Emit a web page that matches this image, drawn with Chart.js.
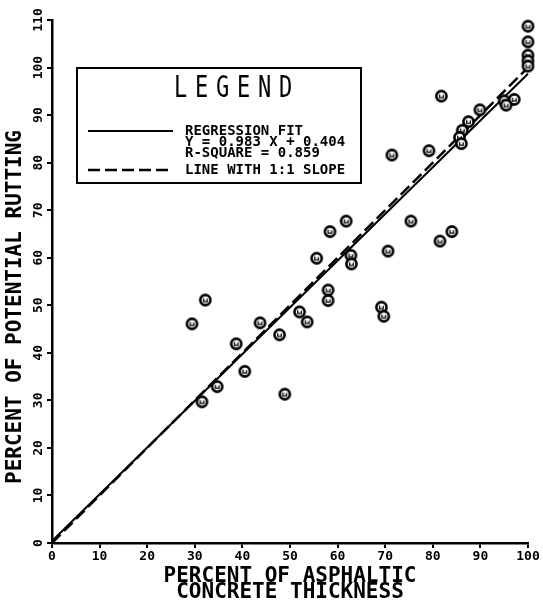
<!DOCTYPE html>
<html><head><meta charset="utf-8">
<script src="https://cdn.jsdelivr.net/npm/chart.js@4/dist/chart.umd.min.js"></script>
<style>html,body{margin:0;padding:0;background:#fff;}canvas{display:block;}</style>
</head><body>
<canvas id="c" width="543" height="603"></canvas>
<script>
// ---- data ----
const acThickness = [32.2,29.4,43.7,38.7,40.5,34.7,31.5,48.9,47.8,52.0,53.6,55.6,58.4,61.8,58.0,58.0,62.8,62.9,70.6,69.2,69.7,71.4,79.2,75.4,81.5,84.0,81.8,89.9,87.5,86.2,85.6,86.0,95.0,97.1,95.4,100,100,100,100,100];
const rutting     = [51.1,46.1,46.3,41.9,36.1,32.9,29.7,31.3,43.8,48.6,46.5,59.9,65.5,67.7,53.2,51.0,60.5,58.7,61.4,49.6,47.7,81.6,82.5,67.7,63.5,65.5,94.0,91.1,88.6,86.8,85.3,84.0,93.0,93.3,92.1,108.7,105.4,102.6,101.4,100.3];
const regressionX = [0,100];
const regressionY = [0.404,98.7];
const oneToOneX = [0,100];
const oneToOneY = [0,100];
const xTickValues = [0,10,20,30,40,50,60,70,80,90,100];
const yTickValues = [0,10,20,30,40,50,60,70,80,90,100,110];
const xTitle = ["PERCENT OF ASPHALTIC","CONCRETE THICKNESS"];
const yTitle = "PERCENT OF POTENTIAL RUTTING";
const legendTitle = "LEGEND";
const legendRegression = ["REGRESSION FIT","Y = 0.983 X + 0.404","R-SQUARE = 0.859"];
const legendOneToOne = "LINE WITH 1:1 SLOPE";

const FONT = '"DejaVu Sans Mono", "Liberation Mono", monospace';

function makeMarker(){
  const c=document.createElement('canvas'); c.width=15; c.height=15;
  const g=c.getContext('2d');
  g.beginPath(); g.arc(7.5,7.5,5.1,0,Math.PI*2);
  g.fillStyle='#fff'; g.fill();
  g.lineWidth=2.6; g.strokeStyle='#000'; g.stroke();
  g.beginPath(); g.moveTo(5.7,5.8); g.lineTo(5.7,9.2); g.lineTo(9.3,9.2); g.lineTo(9.3,6.3);
  g.lineWidth=1.3; g.stroke();
  return c;
}
const marker = makeMarker();

const annot = {
  id:'annot',
  afterDraw(chart){
    const ctx=chart.ctx, a=chart.chartArea;
    ctx.save();
    ctx.fillStyle='#000'; ctx.strokeStyle='#000';
    // axis titles
    ctx.font='bold 21px '+FONT; ctx.textAlign='center'; ctx.textBaseline='middle';
    const cx=(a.left+a.right)/2;
    ctx.fillText(xTitle[0], cx, a.bottom+34);
    ctx.fillText(xTitle[1], cx, a.bottom+50);
    ctx.save(); ctx.translate(16, 307); ctx.rotate(-Math.PI/2);
    ctx.fillText(yTitle,0,0); ctx.restore();
    // legend box
    const L=77, T=68, R=361, B=183;
    ctx.lineWidth=2; ctx.strokeRect(L,T,R-L,B-T);
    // LEGEND title
    ctx.save(); ctx.translate(233, 89); ctx.scale(1,1.35);
    ctx.font='22px '+FONT; ctx.textAlign='center'; ctx.textBaseline='middle';
    const adv=21, n=legendTitle.length;
    for(let i=0;i<n;i++) ctx.fillText(legendTitle[i], (i-(n-1)/2)*adv, 0);
    ctx.restore();
    // sample lines
    ctx.lineWidth=2;
    ctx.beginPath(); ctx.moveTo(88,131); ctx.lineTo(173,131); ctx.stroke();
    ctx.setLineDash([12,5]); ctx.lineWidth=2.5;
    ctx.beginPath(); ctx.moveTo(88,170); ctx.lineTo(173,170); ctx.stroke();
    ctx.setLineDash([]);
    ctx.font='bold 14px '+FONT; ctx.textAlign='left'; ctx.textBaseline='middle';
    ctx.fillText(legendRegression[0],185,131);
    ctx.fillText(legendRegression[1],185,142);
    ctx.fillText(legendRegression[2],185,153);
    ctx.fillText(legendOneToOne,185,170);
    ctx.restore();
  }
};

const tickFont = {family:FONT, weight:'bold', size:13};
new Chart(document.getElementById('c'), {
  type:'scatter',
  data:{datasets:[
    {label:'data', data:acThickness.map((x,i)=>({x, y:rutting[i]})), pointStyle:marker, pointRadius:7, clip:false},
    {label:'1:1', type:'line', data:oneToOneX.map((x,i)=>({x,y:oneToOneY[i]})), borderColor:'#000', borderWidth:2.5, borderDash:[12,5], pointRadius:0, fill:false, clip:false},
    {label:'reg', type:'line', data:regressionX.map((x,i)=>({x,y:regressionY[i]})), borderColor:'#000', borderWidth:2, pointRadius:0, fill:false, clip:false}
  ]},
  options:{
    responsive:false, animation:false, devicePixelRatio:1,
    layout:{padding:{top:20,right:15,left:0,bottom:0}},
    plugins:{legend:{display:false}, tooltip:{enabled:false}},
    scales:{
      x:{type:'linear', min:0, max:100,
        afterBuildTicks:s=>{s.ticks=xTickValues.map(v=>({value:v}));},
        afterFit:s=>{s.height=60;},
        ticks:{font:tickFont, color:'#000', padding:1, minRotation:0, maxRotation:0},
        grid:{drawOnChartArea:false, tickLength:5, color:'#000', lineWidth:2},
        border:{color:'#000', width:2.5}},
      y:{type:'linear', min:0, max:110,
        afterBuildTicks:s=>{s.ticks=yTickValues.map(v=>({value:v}));},
        afterFit:s=>{s.width=52;},
        ticks:{font:tickFont, color:'#000', padding:-3, minRotation:90, maxRotation:90, crossAlign:'center'},
        grid:{drawOnChartArea:false, tickLength:5, color:'#000', lineWidth:2},
        border:{color:'#000', width:2.5}}
    }
  },
  plugins:[annot]
});
</script>
</body></html>
